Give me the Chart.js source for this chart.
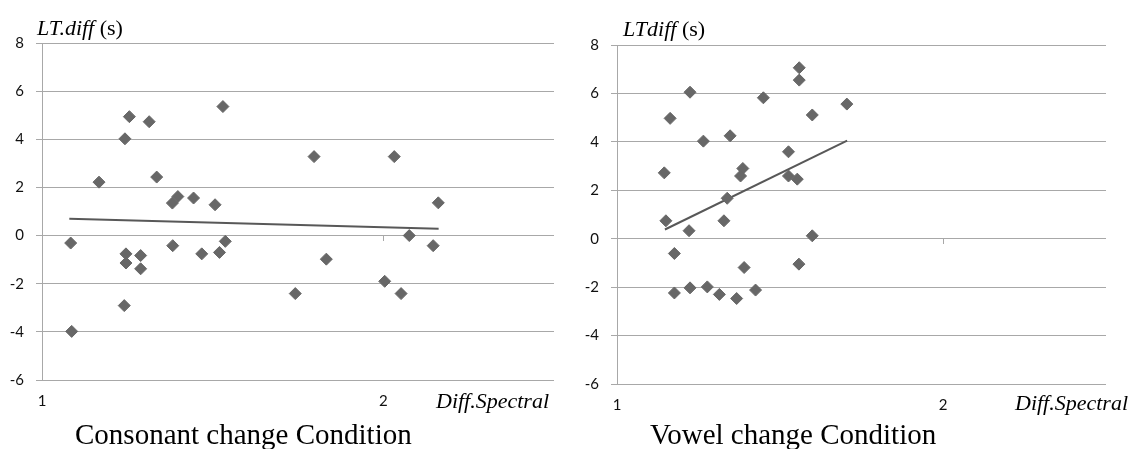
<!DOCTYPE html>
<html><head><meta charset="utf-8">
<script src="https://cdn.jsdelivr.net/npm/chart.js@4.4.1/dist/chart.umd.min.js"></script>
<style>
html,body{margin:0;padding:0;background:#fff;}
body{width:1134px;height:449px;position:relative;overflow:hidden;}
canvas{position:absolute;top:0;}
.t{position:absolute;font-family:"Liberation Serif","Times New Roman",serif;white-space:nowrap;line-height:1;color:#000;}
</style></head><body>
<canvas id="c1" width="567" height="449" style="left:0"></canvas>
<canvas id="c2" width="567" height="449" style="left:567px"></canvas>
<div class="t" style="left:37px;top:16.6px;font-size:22px"><i>LT.diff</i> (s)</div>
<div class="t" style="left:623px;top:17.6px;font-size:22px"><i>LTdiff</i> (s)</div>
<div class="t" style="left:436px;top:389.6px;font-size:22px"><i>Diff.Spectral</i></div>
<div class="t" style="left:1015px;top:391.6px;font-size:22px"><i>Diff.Spectral</i></div>
<div class="t" style="left:75px;top:419.7px;font-size:29px">Consonant change Condition</div>
<div class="t" style="left:650px;top:419.7px;font-size:29px">Vowel change Condition</div>
<script>
// ---- data ----
const xRange = [1, 2.5];
const yRange = [-6, 8];
const xStep = 1;
const yStep = 2;

const consonantX = [1.084,1.087,1.167,1.241,1.243,1.256,1.246,1.246,1.289,1.289,1.314,1.336,1.382,1.398,1.383,1.444,1.468,1.507,1.520,1.537,1.530,1.742,1.797,1.833,2.004,2.032,2.052,2.076,2.146,2.161];
const consonantY = [-0.31,-3.98,2.22,-2.91,4.02,4.94,-0.76,-1.14,-0.83,-1.38,4.73,2.43,1.35,1.62,-0.42,1.56,-0.76,1.28,-0.70,-0.24,5.36,-2.41,3.28,-0.98,-1.90,3.28,-2.41,0.00,-0.42,1.36];
const consonantTrendX = [1.080, 2.162];
const consonantTrendY = [0.70, 0.28];

const vowelX = [1.163,1.265,1.347,1.145,1.386,1.379,1.526,1.526,1.553,1.599,1.705,1.338,1.150,1.328,1.221,1.599,1.176,1.390,1.558,1.176,1.224,1.277,1.314,1.367,1.425,1.224,1.449,1.559,1.559];
const vowelY = [4.97,4.03,4.25,2.72,2.90,2.59,3.59,2.59,2.46,5.11,5.56,1.67,0.74,0.74,0.33,0.12,-0.61,-1.19,-1.05,-2.24,-2.03,-1.99,-2.30,-2.47,-2.12,6.05,5.82,7.06,6.55];
const vowelTrendX = [1.147, 1.706];
const vowelTrendY = [0.38, 4.05];

// ---- styling ----
const gridColor = '#a8a8a8';
const markColor = '#676767';
const lineColor = '#585858';

const zeroTicks = {
  id: 'zeroTicks',
  beforeDatasetsDraw(chart) {
    const {ctx, scales: {x, y}} = chart;
    const y0 = Math.round(y.getPixelForValue(0));
    ctx.save();
    ctx.strokeStyle = gridColor;
    ctx.lineWidth = 1;
    x.ticks.forEach(t => {
      if (t.value === x.min) return;
      const px = Math.round(x.getPixelForValue(t.value)) + 0.5;
      ctx.beginPath();
      ctx.moveTo(px, y0);
      ctx.lineTo(px, y0 + 5);
      ctx.stroke();
    });
    ctx.restore();
  }
};

function pts(xs, ys) { return xs.map((v, i) => ({x: v, y: ys[i]})); }

function makeChart(id, xs, ys, tx, ty, geo) {
  new Chart(document.getElementById(id), {
    type: 'scatter',
    data: {
      datasets: [
        {
          data: pts(tx, ty), showLine: true, borderColor: lineColor, borderWidth: 2,
          pointRadius: 0, fill: false, order: 2
        },
        {
          data: pts(xs, ys), pointStyle: 'rectRot', pointRadius: 6,
          backgroundColor: markColor, borderColor: markColor, borderWidth: 1, order: 1
        }
      ]
    },
    options: {
      responsive: false,
      animation: false,
      devicePixelRatio: 1,
      layout: {padding: {top: geo.top, right: geo.right, left: 0, bottom: 0}},
      plugins: {legend: {display: false}, tooltip: {enabled: false}},
      scales: {
        x: {
          type: 'linear', min: xRange[0], max: xRange[1],
          grid: {display: false, drawTicks: false},
          border: {display: false},
          ticks: {stepSize: xStep, includeBounds: false, padding: 12, color: '#111',
                  font: {family: 'Lato', size: 15}},
          afterFit(s) { s.height = geo.bottomH; }
        },
        y: {
          type: 'linear', min: yRange[0], max: yRange[1],
          grid: {color: gridColor, lineWidth: 1, drawTicks: true, tickLength: 6},
          border: {display: true, color: gridColor, width: 1},
          ticks: {stepSize: yStep, padding: 12, color: '#111',
                  font: {family: 'Lato', size: 15}},
          afterFit(s) { s.width = geo.leftW; }
        }
      }
    },
    plugins: [zeroTicks]
  });
}

makeChart('c1', consonantX, consonantY, consonantTrendX, consonantTrendY,
  {top: 43, right: 13, bottomH: 69, leftW: 42});
makeChart('c2', vowelX, vowelY, vowelTrendX, vowelTrendY,
  {top: 45, right: 28, bottomH: 65, leftW: 50});
</script>
</body></html>
